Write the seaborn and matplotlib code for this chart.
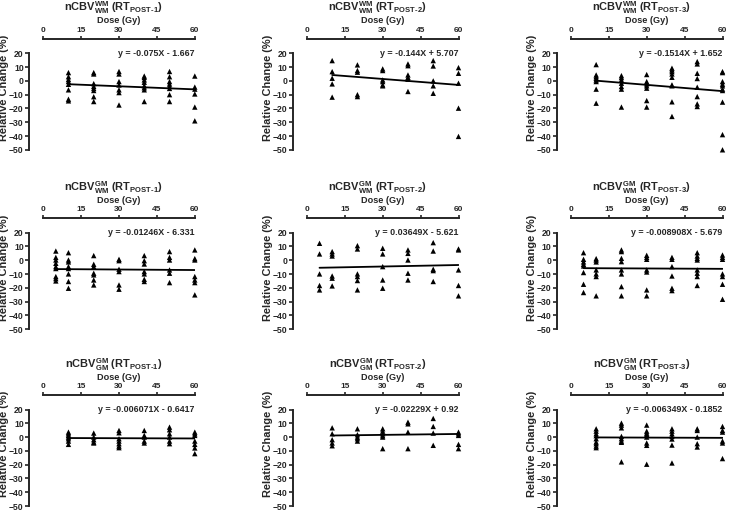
import matplotlib
matplotlib.use("Agg")
import matplotlib.pyplot as plt
import seaborn as sns
import pandas as pd

# values read per dose group (Gy -> relative change, %)
wm_wm_post1 = {
    10: [6, 3, 1, -0.5, -2.5, -6.5, -13.3, -14.5],
    20: [6, 5, -2, -4, -5.5, -7, -11.5, -15],
    30: [6.8, 5, -0.5, -3, -6.5, -8.5, -17.5],
    40: [3.5, 2.5, 0.7, -1, -3.5, -5, -6.5, -15],
    50: [6.8, 3, -0.5, -2.3, -4, -5.5, -10, -15],
    60: [3.5, -4.5, -6, -9.5, -19, -29],
}
wm_wm_post2 = {
    10: [14.7, 6.7, 1.9, -2.2, -11.8],
    20: [11.6, 7.5, 6.3, -10, -11.4],
    30: [8.7, 7.5, 0.7, -0.5, -2.9, -3.6],
    40: [12.3, 11, 4.3, 2.6, 1.2, -7.7],
    50: [14.7, 10.8, 0, -3.6, -9],
    60: [9.6, 5.5, -1.7, -19.8, -40.3],
}
wm_wm_post3 = {
    10: [11.8, 4.3, 3.1, 1.9, 0.7, -0.5, -6, -16.2],
    20: [3.8, 2.4, 0.7, -1.7, -4.1, -6, -19],
    30: [4.6, -0.5, -2.2, -3.6, -5.3, -14.3, -19],
    40: [9.2, 8, 6.7, 5, 2.6, -2.9, -3.6, -15.2, -25.8],
    50: [14, 12.3, 5.5, 1.7, -4.6, -11.4, -16.7, -18.6],
    60: [6.7, 6, -0.5, -2.4, -3.6, -6, -7, -15.4, -39, -50],
}
gm_wm_post1 = {
    5: [6.7, 2.1, 0.2, -2.2, -4.6, -6, -11.8, -13.3, -15],
    10: [5.5, 0.2, -1.2, -4.6, -6, -9.9, -15.4, -20.3],
    20: [3.4, -2.9, -4.6, -9.4, -10.6, -14.3, -17.9],
    30: [0.7, -0.3, -6.5, -8.2, -17.9, -21],
    40: [3.4, -0.3, -2.7, -8.2, -9.9, -13.8, -15.4],
    50: [6.3, 2.1, 0.2, -7, -9.4, -16.2],
    60: [7.5, 1.2, 0.2, -11.8, -14.3, -16.2, -25.1],
}
gm_wm_post2 = {
    5: [12.3, 4.6, -9.9, -18.3, -21.5],
    10: [6.3, 4.6, 3.1, -11.4, -13, -18.6],
    20: [10.6, 8.2, -9.9, -11.8, -14.7, -21.5],
    30: [8.7, 4.6, -4.6, -14.3, -20.3],
    40: [7.5, 5, 0.2, -9.4, -14.3],
    50: [12.8, 6.7, -6.5, -7.5, -15.4],
    60: [8.2, 7.5, -7, -18.3, -25.8],
}
gm_wm_post3 = {
    5: [5.5, 0.7, -1.2, -2.9, -4.1, -8.9, -17.4, -23.4],
    10: [1.2, 0.2, -1.2, -7, -9.9, -11.8, -25.8],
    20: [7.5, 6.3, 1.4, -1, -7, -9.9, -19.1, -25.8],
    30: [3.6, 2.1, 0.7, -7, -8.5, -21.5, -25.8],
    40: [2.1, 0.7, -4.6, -11.4, -20.3, -22],
    50: [5.5, 3.1, 1.4, 0.2, -7, -9.4, -11.8, -18.3],
    60: [3.8, 2.1, 0.7, -9.9, -11.8, -17.4, -28.3],
}
gm_gm_post1 = {
    10: [3.6, 2.4, 1.2, 0, -1.2, -2.9, -5.3],
    20: [2.9, 0, -1.9, -3.6, -4.3],
    30: [4.8, 3.1, -1.2, -2.9, -4.8, -6.5, -7.7],
    40: [4.8, 1.2, 0, -2.9, -4.3],
    50: [7.2, 5.3, 2.4, 0, -2.9, -4.8],
    60: [3.6, 2.4, 1.2, -2.9, -5.3, -7.9, -12],
}
gm_gm_post2 = {
    10: [6.7, 2.4, -1.9, -4.3, -6.3],
    20: [6, 1.7, 0, -1.2, -2.9],
    30: [6, 4.3, 2.4, 1, 0, -8.4],
    40: [10.8, 9.6, 3.6, -8.4],
    50: [13.5, 7.7, 2.9, -6],
    60: [3.6, 2.4, 1.2, -5.3, -8.4],
}
gm_gm_post3 = {
    10: [6, 4.3, 2.4, 1, -1.2, -3.6, -4.8, -6.5, -7.7],
    20: [10.1, 8.7, 6.7, 0.5, -1.2, -2.9, -3.8, -18],
    30: [8.7, 4.3, 2.9, 1.9, 0, -4.3, -6, -19.7],
    40: [6, 4.3, 2.4, 0.5, -1.4, -5.8, -18.8],
    50: [6, 4.8, 0, -4.8, -7.2],
    60: [7.7, 4.8, 3.6, -2.9, -4.3, -15.6],
}

panels = [wm_wm_post1, wm_wm_post2, wm_wm_post3,
          gm_wm_post1, gm_wm_post2, gm_wm_post3,
          gm_gm_post1, gm_gm_post2, gm_gm_post3]

# fitted lines as drawn, and the equations as printed
slopes = [-0.075, -0.144, -0.1514, -0.01246, 0.03649, -0.008908, -0.006071, 0.02229, -0.006349]
intercepts = [-1.667, 5.707, 1.652, -6.331, -5.621, -5.679, -0.6417, 0.92, -0.1852]
equations = ["y = -0.075X - 1.667", "y = -0.144X + 5.707", "y = -0.1514X + 1.652",
             "y = -0.01246X - 6.331", "y = 0.03649X - 5.621", "y = -0.008908X - 5.679",
             "y = -0.006071X - 0.6417", "y = -0.02229X + 0.92", "y = -0.006349X - 0.1852"]

sup_labels = ["WM", "GM", "GM"]
sub_labels = ["WM", "WM", "GM"]
dose_ticks = [0, 15, 30, 45, 60]
change_ticks = [20, 10, 0, -10, -20, -30, -40, -50]

sns.set_style("ticks")
plt.rcParams["font.family"] = ["Liberation Sans", "DejaVu Sans"]
plt.rcParams["font.weight"] = "bold"
plt.rcParams["mathtext.fontset"] = "custom"
plt.rcParams["mathtext.rm"] = "Liberation Sans:bold"
plt.rcParams["mathtext.it"] = "Liberation Sans:bold"
plt.rcParams["mathtext.bf"] = "Liberation Sans:bold"

W, H = 732, 512
fig = plt.figure(figsize=(W / 100, H / 100), dpi=100)

col_left = [29.3, 293, 557]
row_top = [53.3, 232.7, 409.5]
ax_w, ax_h = 165.5, 96.5


def draw_panel(ax, data, slope, intercept, eq, title):
    df = pd.DataFrame([(d, v) for d, vals in data.items() for v in vals],
                      columns=["Dose", "Change"])
    sns.scatterplot(data=df, x="Dose", y="Change", marker="^", s=15,
                    color="black", edgecolor="none", ax=ax, clip_on=False,
                    zorder=3)
    x0 = min(data.keys())
    line = pd.DataFrame({"Dose": [x0, 60],
                         "Change": [slope * x0 + intercept, slope * 60 + intercept]})
    sns.lineplot(data=line, x="Dose", y="Change", color="black", lw=1.3,
                 ax=ax, zorder=4)

    ax.set_xlim(-5.5, 60)
    ax.set_ylim(-50, 20)
    ax.spines["right"].set_visible(False)
    ax.spines["bottom"].set_visible(False)
    ax.spines["top"].set_position(("outward", 10.5))
    ax.spines["top"].set_bounds(0, 60)
    for s in ["top", "left"]:
        ax.spines[s].set_linewidth(1.4)
    ax.xaxis.tick_top()
    ax.set_xticks(dose_ticks)
    ax.set_yticks(change_ticks)
    ax.tick_params(axis="x", length=2.5, width=1.2, pad=1, labelsize=6)
    ax.tick_params(axis="y", length=3, width=1.2, pad=1, labelsize=6.2)
    ax.set_xlabel("")
    ax.set_ylabel("")
    ax.text(60, 20, eq, ha="right", va="center", fontsize=6.4, fontweight="bold")
    ax.text(0.542, 1.335, "Dose (Gy)", transform=ax.transAxes, ha="center",
            va="center", fontsize=6.6, fontweight="bold")
    ax.text(0.51, 1.47, title, transform=ax.transAxes, ha="center",
            va="center", fontsize=7.9, fontweight="bold")
    ax.text(-0.15, 0.64, "Relative Change (%)", transform=ax.transAxes,
            rotation=90, ha="center", va="center", fontsize=7.9,
            fontweight="bold")


for i, data in enumerate(panels):
    r, c = divmod(i, 3)
    left = col_left[c] / W
    bottom = 1 - (row_top[r] + ax_h) / H
    ax = fig.add_axes([left, bottom, ax_w / W, ax_h / H])
    ax.patch.set_alpha(0)
    title = (r"nCBV$_{\mathrm{%s}}^{\mathrm{%s}}$ (RT$_{\mathrm{POST\text{-}%d}}$)"
             % (sub_labels[r], sup_labels[r], c + 1))
    draw_panel(ax, data, slopes[i], intercepts[i], equations[i], title)

fig.savefig("out.png", dpi=100)
